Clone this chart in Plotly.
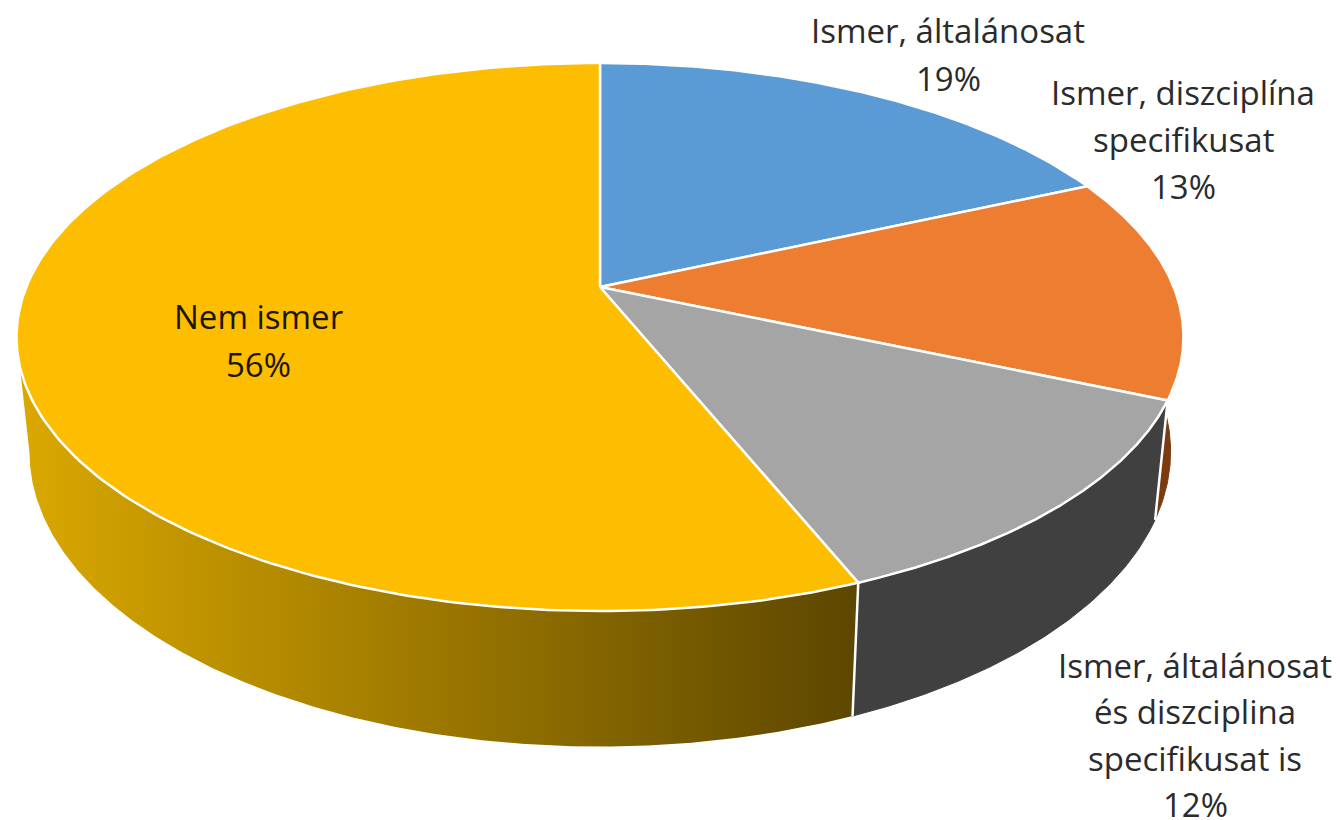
import numpy as np
import plotly.graph_objects as go

categories = ["Ismer, általánosat", "Ismer, diszciplína<br>specifikusat",
              "Ismer, általánosat<br>és diszciplina<br>specifikusat is", "Nem ismer"]
values = [18.3, 13.2, 12.4, 56.1]
percent_labels = ["19%", "13%", "12%", "56%"]

TOP_COLORS = ["#5B9BD5", "#ED7D31", "#A5A5A5", "#FDBD00"]
SIDE_COLORS = ["#2F5B85", "#7A3C0E", "#404040", None]
GRAD_LEFT = "rgb(218,168,0)"
GRAD_RIGHT = "rgb(92,70,0)"

# perspective model of the pie, in page pixels
CX, AY, A, B, K = 600.0, 287.0, 573.7, 264.9, 0.1825
TOP_C, TOP_RX, TOP_RY = 337.0, 583.5, 274.0
BOT_C, BOT_RX, BOT_RY = 451.5, 570.6, 295.0
LABEL_POS = [(948, 30, 48), (1183, 92, 47), (1195, 665, 46.5), (258, 316, 48)]
LABEL_COLORS = ["#2b2b2b", "#2b2b2b", "#2b2b2b", "#1c1600"]
LABEL_SIZE = 33


def top_rim(theta):
    X, Y = np.sin(theta), np.cos(theta)
    d = 1 + K * Y
    return CX + A * X / d, AY - B * Y / d


def bottom_rim(theta):
    x, y = top_rim(theta)
    s, c = (x - CX) / TOP_RX, (TOP_C - y) / TOP_RY
    return CX + BOT_RX * s, BOT_C - BOT_RY * c


total = sum(values)
edges = np.cumsum([0] + values) / total * 2 * np.pi
fig = go.Figure()


def poly(x, y, fill, line=None, width=1.0):
    fig.add_trace(go.Scatter(x=list(x), y=list(y), mode="lines", fill="toself",
                             fillcolor=fill, hoverinfo="skip", showlegend=False,
                             line=dict(color=line or fill, width=width)))


def segment(x, y, color="white", width=2.0):
    fig.add_trace(go.Scatter(x=list(x), y=list(y), mode="lines", hoverinfo="skip",
                             showlegend=False, line=dict(color=color, width=width)))


# side walls
for i in [1, 2]:
    th = np.linspace(edges[i], edges[i + 1], 100)
    tx, ty = top_rim(th)
    bx, by = bottom_rim(th)
    poly(np.r_[tx, bx[::-1]], np.r_[ty, by[::-1]], SIDE_COLORS[i])

# gradient wall of the large slice: runs up to the left-most point of the rim
th = np.linspace(edges[3], 2 * np.pi - np.arccos(-K), 300)
tx, ty = top_rim(th)
bx, by = bottom_rim(th)
fig.add_trace(go.Scatter(
    x=list(np.r_[tx, bx[::-1]]), y=list(np.r_[ty, by[::-1]]), mode="lines", fill="toself",
    fillgradient=dict(type="horizontal", colorscale=[[0, GRAD_LEFT], [1, GRAD_RIGHT]],
                      start=20, stop=860),
    line=dict(width=0), hoverinfo="skip", showlegend=False))

# white edges between walls
for i in [2, 3]:
    x0, y0 = top_rim(edges[i])
    x1, y1 = bottom_rim(edges[i])
    segment([x0, x1], [y0, y1], width=2.5)

# top faces
for i in range(4):
    th = np.linspace(edges[i], edges[i + 1], 240)
    tx, ty = top_rim(th)
    poly(np.r_[CX, tx, CX], np.r_[AY, ty, AY], TOP_COLORS[i], line="white", width=2.5)

# labels, one annotation per line to keep the tight line spacing
for cat, pct, (lx, ly, step), col in zip(categories, percent_labels, LABEL_POS, LABEL_COLORS):
    lines = cat.split("<br>") + [pct]
    for n, txt in enumerate(lines):
        fig.add_annotation(x=lx, y=ly + n * step, text=txt, showarrow=False,
                           xanchor="center", yanchor="middle",
                           font=dict(family="Open Sans", size=LABEL_SIZE, color=col))

fig.update_layout(
    width=1340, height=820, margin=dict(l=0, r=0, t=0, b=0),
    paper_bgcolor="white", plot_bgcolor="white", showlegend=False,
    xaxis=dict(range=[0, 1340], visible=False, fixedrange=True),
    yaxis=dict(range=[820, 0], visible=False, fixedrange=True),
)
fig.write_html("out.html", config={"displayModeBar": False},
               post_script="document.body.style.margin='0';document.documentElement.style.overflow='hidden';")
